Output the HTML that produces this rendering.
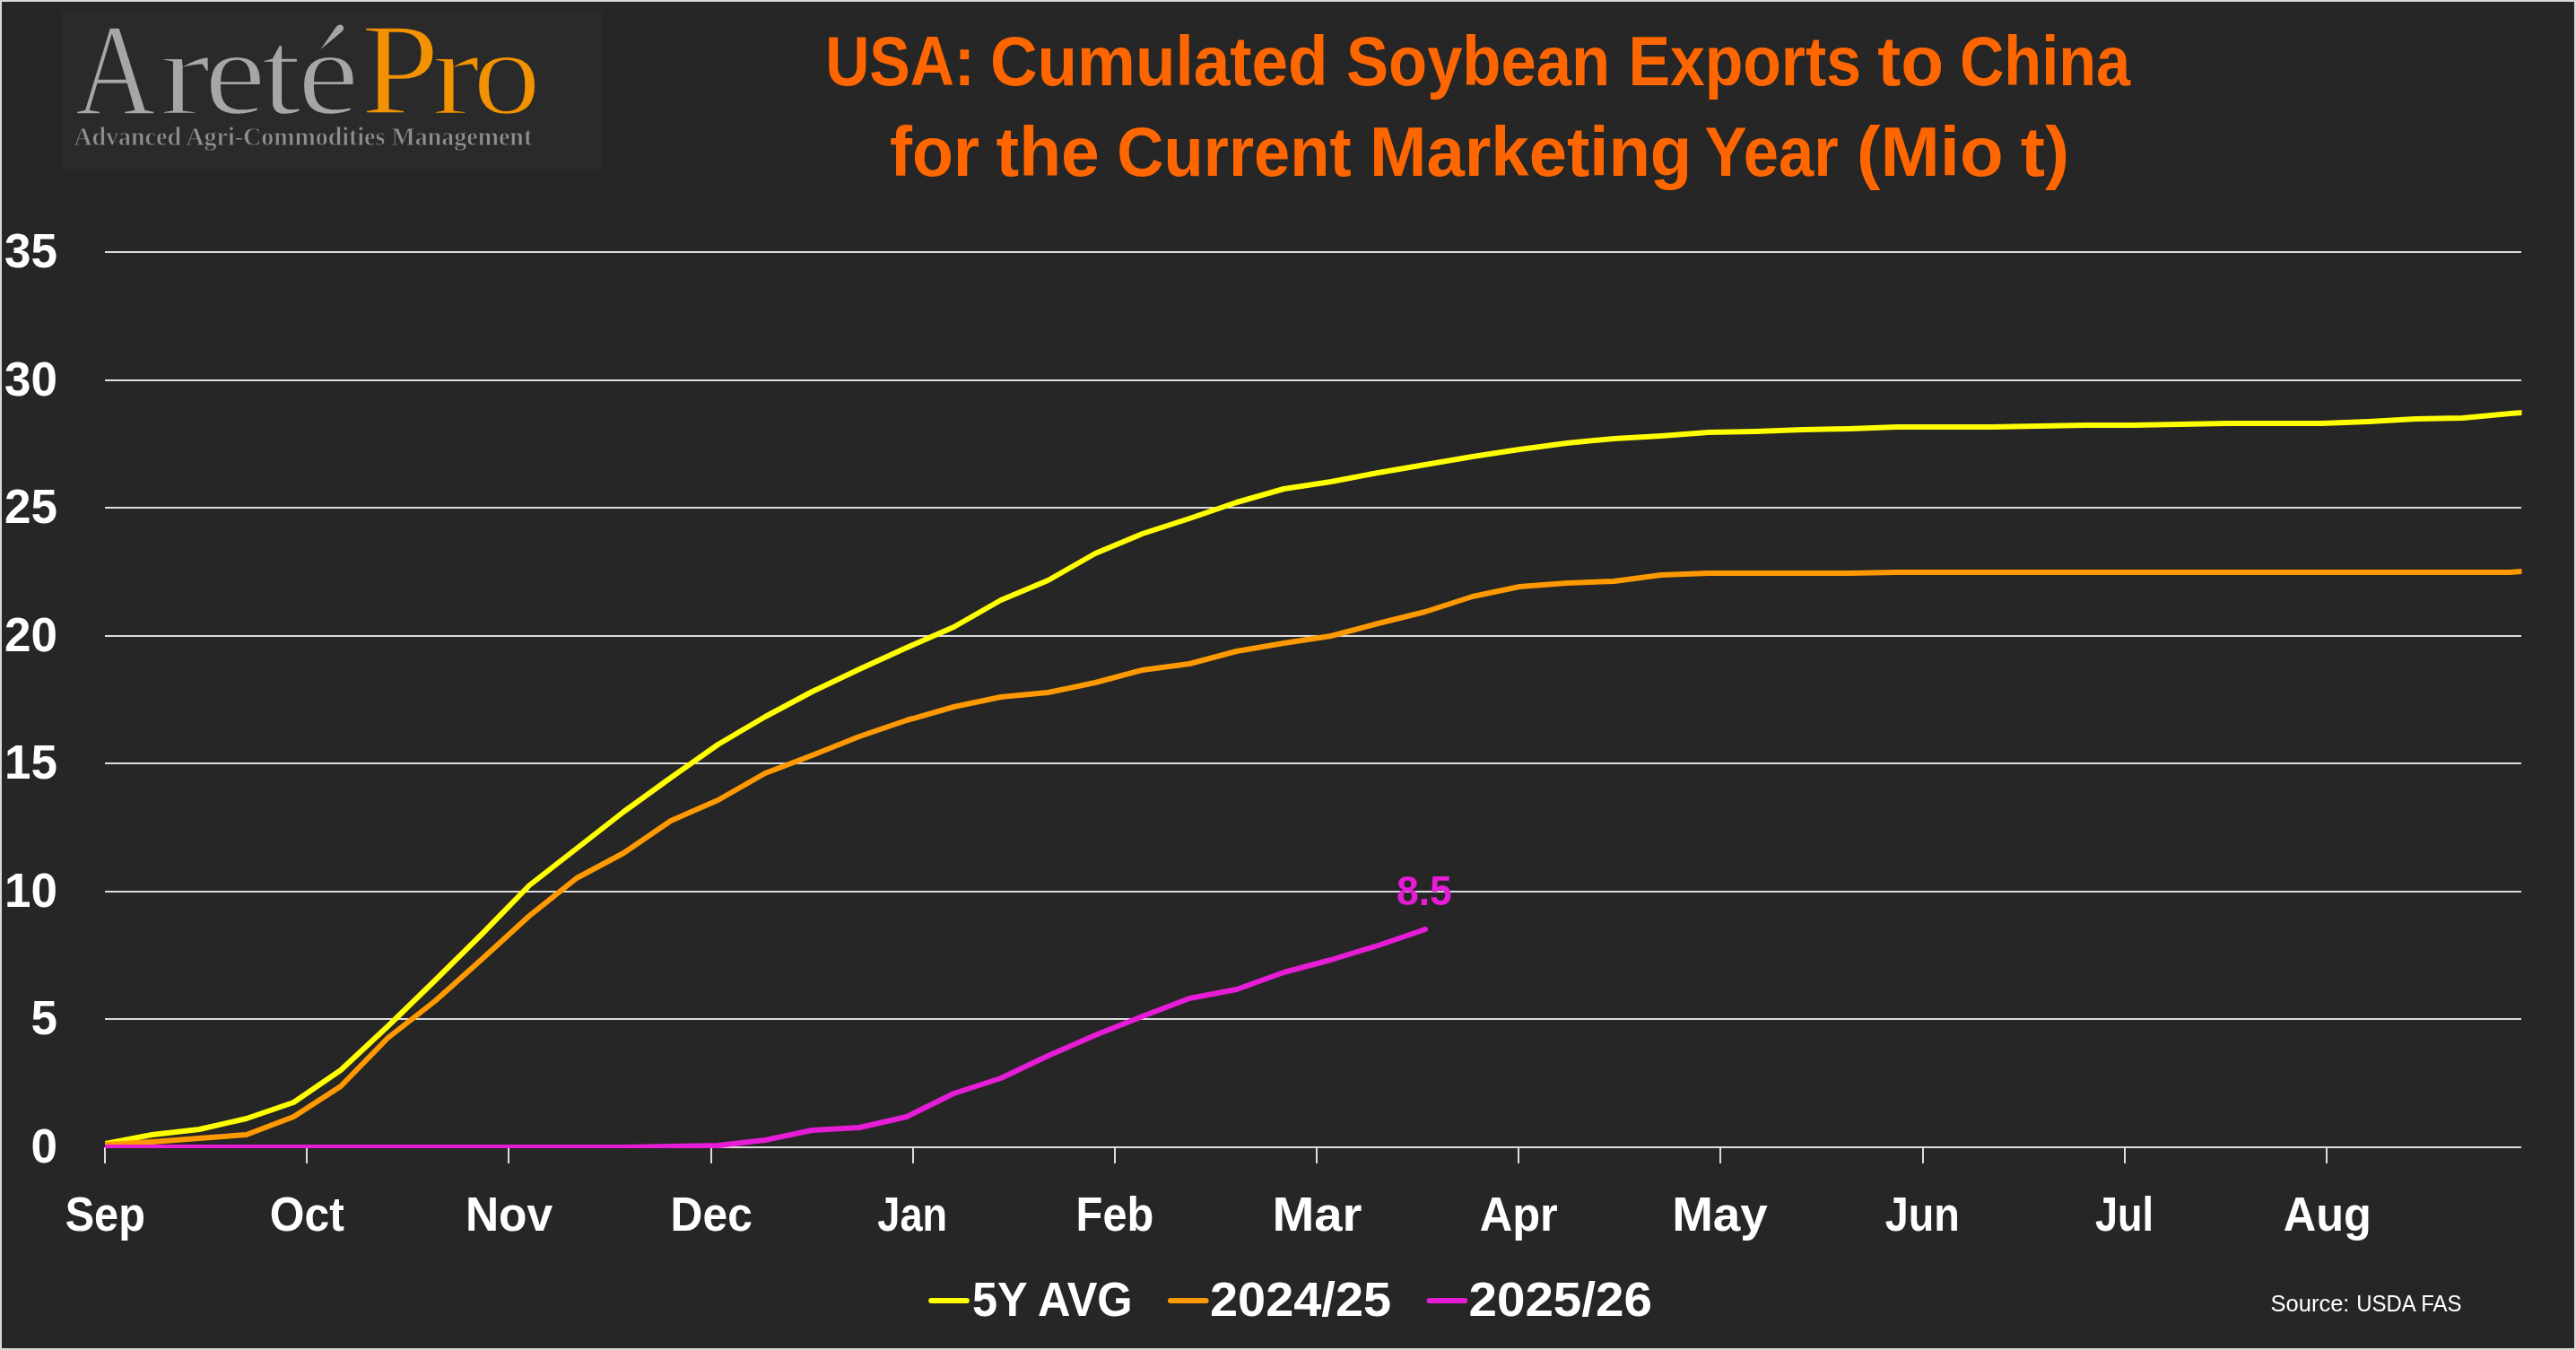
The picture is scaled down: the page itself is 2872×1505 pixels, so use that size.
<!DOCTYPE html><html><head><meta charset="utf-8"><style>html,body{margin:0;padding:0;background:#262626;}svg{display:block}</style></head><body>
<svg width="2872" height="1505" viewBox="0 0 2872 1505">
<defs><clipPath id="plot"><rect x="117" y="200" width="2694.5" height="1080"/></clipPath></defs>
<rect x="0" y="0" width="2872" height="1505" fill="#d9d9d9"/>
<rect x="2" y="2" width="2868" height="1501" fill="#262626"/>
<rect x="117" y="1135" width="2694" height="2" fill="#dcdcdc"/>
<rect x="117" y="993" width="2694" height="2" fill="#dcdcdc"/>
<rect x="117" y="850" width="2694" height="2" fill="#dcdcdc"/>
<rect x="117" y="708" width="2694" height="2" fill="#dcdcdc"/>
<rect x="117" y="565" width="2694" height="2" fill="#dcdcdc"/>
<rect x="117" y="423" width="2694" height="2" fill="#dcdcdc"/>
<rect x="117" y="280" width="2694" height="2" fill="#dcdcdc"/>
<rect x="117" y="1278" width="2694" height="2" fill="#dcdcdc"/>
<rect x="116" y="1279" width="2" height="18" fill="#dcdcdc"/>
<rect x="341" y="1279" width="2" height="18" fill="#dcdcdc"/>
<rect x="566" y="1279" width="2" height="18" fill="#dcdcdc"/>
<rect x="792" y="1279" width="2" height="18" fill="#dcdcdc"/>
<rect x="1017" y="1279" width="2" height="18" fill="#dcdcdc"/>
<rect x="1242" y="1279" width="2" height="18" fill="#dcdcdc"/>
<rect x="1467" y="1279" width="2" height="18" fill="#dcdcdc"/>
<rect x="1692" y="1279" width="2" height="18" fill="#dcdcdc"/>
<rect x="1917" y="1279" width="2" height="18" fill="#dcdcdc"/>
<rect x="2143" y="1279" width="2" height="18" fill="#dcdcdc"/>
<rect x="2368" y="1279" width="2" height="18" fill="#dcdcdc"/>
<rect x="2593" y="1279" width="2" height="18" fill="#dcdcdc"/>
<text x="64" y="1295.5" text-anchor="end" font-family="Liberation Sans" font-weight="bold" font-size="53" fill="#ffffff">0</text>
<text x="64" y="1153.0" text-anchor="end" font-family="Liberation Sans" font-weight="bold" font-size="53" fill="#ffffff">5</text>
<text x="64" y="1010.5" text-anchor="end" font-family="Liberation Sans" font-weight="bold" font-size="53" fill="#ffffff">10</text>
<text x="64" y="868.0" text-anchor="end" font-family="Liberation Sans" font-weight="bold" font-size="53" fill="#ffffff">15</text>
<text x="64" y="725.5" text-anchor="end" font-family="Liberation Sans" font-weight="bold" font-size="53" fill="#ffffff">20</text>
<text x="64" y="583.0" text-anchor="end" font-family="Liberation Sans" font-weight="bold" font-size="53" fill="#ffffff">25</text>
<text x="64" y="440.5" text-anchor="end" font-family="Liberation Sans" font-weight="bold" font-size="53" fill="#ffffff">30</text>
<text x="64" y="298.0" text-anchor="end" font-family="Liberation Sans" font-weight="bold" font-size="53" fill="#ffffff">35</text>
<g clip-path="url(#plot)" fill="none" stroke-width="6" stroke-linejoin="round" stroke-linecap="round">
<polyline points="117.0,1275 169.6,1265 222.2,1259 274.7,1247 327.3,1229 379.9,1193 432.5,1144 485.0,1093 537.6,1041 590.2,987 642.8,946 695.3,905 747.9,867 800.5,830 853.1,799 905.6,771 958.2,746 1010.8,722 1063.4,699 1115.9,669 1168.5,647 1221.1,617 1273.7,595 1326.2,578 1378.8,560 1431.4,545 1484.0,537 1536.6,527 1589.1,518 1641.7,509 1694.3,501 1746.9,494 1799.4,489 1852.0,486 1904.6,482 1957.2,481 2009.7,479 2062.3,478 2114.9,476 2167.5,476 2220.0,476 2272.6,475 2325.2,474 2377.8,474 2430.3,473 2482.9,472 2535.5,472 2588.1,472 2640.6,470 2693.2,467 2745.8,466 2798.4,461 2851.0,457" stroke="#ffff00"/>
<polyline points="117.0,1276 169.6,1273 222.2,1269 274.7,1265 327.3,1245 379.9,1211 432.5,1157 485.0,1116 537.6,1069 590.2,1021 642.8,979 695.3,951 747.9,915 800.5,892 853.1,862 905.6,842 958.2,821 1010.8,803 1063.4,788 1115.9,777 1168.5,772 1221.1,761 1273.7,747 1326.2,740 1378.8,726 1431.4,717 1484.0,709 1536.6,695 1589.1,682 1641.7,665 1694.3,654 1746.9,650 1799.4,648 1852.0,641 1904.6,639 1957.2,639 2009.7,639 2062.3,639 2114.9,638 2167.5,638 2220.0,638 2272.6,638 2325.2,638 2377.8,638 2430.3,638 2482.9,638 2535.5,638 2588.1,638 2640.6,638 2693.2,638 2745.8,638 2798.4,638 2851.0,634" stroke="#ff9900"/>
<polyline points="117.0,1279 169.6,1279 222.2,1279 274.7,1279 327.3,1279 379.9,1279 432.5,1279 485.0,1279 537.6,1279 590.2,1279 642.8,1279 695.3,1279 747.9,1278 800.5,1277 853.1,1271 905.6,1260 958.2,1257 1010.8,1245 1063.4,1219 1115.9,1202 1168.5,1177 1221.1,1154 1273.7,1133 1326.2,1113 1378.8,1103 1431.4,1084 1484.0,1070 1536.6,1054 1589.1,1036" stroke="#e61cd6"/>
</g>
<line x1="1038.2" y1="1450" x2="1077.8" y2="1450" stroke="#ffff00" stroke-width="6" stroke-linecap="round"/>
<line x1="1305" y1="1450" x2="1344.6" y2="1450" stroke="#ff9900" stroke-width="6" stroke-linecap="round"/>
<line x1="1593.6" y1="1450" x2="1633.2" y2="1450" stroke="#e61cd6" stroke-width="6" stroke-linecap="round"/>
<rect x="69" y="12" width="602" height="178" fill="#2a2a2a"/>
<path d="M357.5,55 L375,29.5 Q379,26 382,28.5 Q384.5,31.5 381.5,35 Z" fill="#a5a6a8"/>
<g style="will-change:transform">
<text x="920.14" y="95.10" font-family="Liberation Sans" font-weight="bold" font-size="77" fill="#ff6600" textLength="166.48" lengthAdjust="spacingAndGlyphs">USA:</text>
<text x="1103.94" y="95.10" font-family="Liberation Sans" font-weight="bold" font-size="77" fill="#ff6600" textLength="376.57" lengthAdjust="spacingAndGlyphs">Cumulated</text>
<text x="1500.96" y="95.10" font-family="Liberation Sans" font-weight="bold" font-size="77" fill="#ff6600" textLength="294.13" lengthAdjust="spacingAndGlyphs">Soybean</text>
<text x="1815.48" y="95.10" font-family="Liberation Sans" font-weight="bold" font-size="77" fill="#ff6600" textLength="259.41" lengthAdjust="spacingAndGlyphs">Exports</text>
<text x="2093.13" y="95.10" font-family="Liberation Sans" font-weight="bold" font-size="77" fill="#ff6600" textLength="73.84" lengthAdjust="spacingAndGlyphs">to</text>
<text x="2184.97" y="95.10" font-family="Liberation Sans" font-weight="bold" font-size="77" fill="#ff6600" textLength="190.04" lengthAdjust="spacingAndGlyphs">China</text>
<text x="991.94" y="195.90" font-family="Liberation Sans" font-weight="bold" font-size="77" fill="#ff6600" textLength="100.13" lengthAdjust="spacingAndGlyphs">for</text>
<text x="1110.55" y="195.90" font-family="Liberation Sans" font-weight="bold" font-size="77" fill="#ff6600" textLength="115.33" lengthAdjust="spacingAndGlyphs">the</text>
<text x="1245.36" y="195.90" font-family="Liberation Sans" font-weight="bold" font-size="77" fill="#ff6600" textLength="261.26" lengthAdjust="spacingAndGlyphs">Current</text>
<text x="1527.05" y="195.90" font-family="Liberation Sans" font-weight="bold" font-size="77" fill="#ff6600" textLength="359.30" lengthAdjust="spacingAndGlyphs">Marketing</text>
<text x="1900.56" y="195.90" font-family="Liberation Sans" font-weight="bold" font-size="77" fill="#ff6600" textLength="149.05" lengthAdjust="spacingAndGlyphs">Year</text>
<text x="2070.03" y="195.90" font-family="Liberation Sans" font-weight="bold" font-size="77" fill="#ff6600" textLength="163.50" lengthAdjust="spacingAndGlyphs">(Mio</text>
<text x="2252.75" y="195.90" font-family="Liberation Sans" font-weight="bold" font-size="77" fill="#ff6600" textLength="54.47" lengthAdjust="spacingAndGlyphs">t)</text>
<text x="72.71" y="1372.30" font-family="Liberation Sans" font-weight="bold" font-size="53" fill="#ffffff" textLength="89.14" lengthAdjust="spacingAndGlyphs">Sep</text>
<text x="300.70" y="1372.30" font-family="Liberation Sans" font-weight="bold" font-size="53" fill="#ffffff" textLength="83.11" lengthAdjust="spacingAndGlyphs">Oct</text>
<text x="518.89" y="1372.30" font-family="Liberation Sans" font-weight="bold" font-size="53" fill="#ffffff" textLength="97.33" lengthAdjust="spacingAndGlyphs">Nov</text>
<text x="747.55" y="1372.30" font-family="Liberation Sans" font-weight="bold" font-size="53" fill="#ffffff" textLength="91.25" lengthAdjust="spacingAndGlyphs">Dec</text>
<text x="978.35" y="1372.30" font-family="Liberation Sans" font-weight="bold" font-size="53" fill="#ffffff" textLength="77.72" lengthAdjust="spacingAndGlyphs">Jan</text>
<text x="1199.62" y="1372.30" font-family="Liberation Sans" font-weight="bold" font-size="53" fill="#ffffff" textLength="86.67" lengthAdjust="spacingAndGlyphs">Feb</text>
<text x="1418.42" y="1372.30" font-family="Liberation Sans" font-weight="bold" font-size="53" fill="#ffffff" textLength="99.93" lengthAdjust="spacingAndGlyphs">Mar</text>
<text x="1649.63" y="1372.30" font-family="Liberation Sans" font-weight="bold" font-size="53" fill="#ffffff" textLength="87.11" lengthAdjust="spacingAndGlyphs">Apr</text>
<text x="1864.17" y="1372.30" font-family="Liberation Sans" font-weight="bold" font-size="53" fill="#ffffff" textLength="106.74" lengthAdjust="spacingAndGlyphs">May</text>
<text x="2101.74" y="1372.30" font-family="Liberation Sans" font-weight="bold" font-size="53" fill="#ffffff" textLength="83.08" lengthAdjust="spacingAndGlyphs">Jun</text>
<text x="2336.00" y="1372.30" font-family="Liberation Sans" font-weight="bold" font-size="53" fill="#ffffff" textLength="65.02" lengthAdjust="spacingAndGlyphs">Jul</text>
<text x="2545.73" y="1372.30" font-family="Liberation Sans" font-weight="bold" font-size="53" fill="#ffffff" textLength="98.11" lengthAdjust="spacingAndGlyphs">Aug</text>
<text x="1083.98" y="1466.80" font-family="Liberation Sans" font-weight="bold" font-size="53" fill="#ffffff" textLength="178.60" lengthAdjust="spacingAndGlyphs">5Y AVG</text>
<text x="1348.97" y="1466.80" font-family="Liberation Sans" font-weight="bold" font-size="53" fill="#ffffff" textLength="202.15" lengthAdjust="spacingAndGlyphs">2024/25</text>
<text x="1637.45" y="1466.80" font-family="Liberation Sans" font-weight="bold" font-size="53" fill="#ffffff" textLength="204.59" lengthAdjust="spacingAndGlyphs">2025/26</text>
<text x="2531.56" y="1461.80" font-family="Liberation Sans" font-weight="normal" font-size="25" fill="#ffffff" textLength="87.92" lengthAdjust="spacingAndGlyphs">Source:</text>
<text x="2627.24" y="1461.80" font-family="Liberation Sans" font-weight="normal" font-size="25" fill="#ffffff" textLength="117.28" lengthAdjust="spacingAndGlyphs">USDA FAS</text>
<text x="83.93" y="126.80" font-family="Liberation Serif" font-weight="normal" font-size="146" fill="#a5a6a8" textLength="89.33" lengthAdjust="spacingAndGlyphs" stroke="#2a2a2a" stroke-width="2.4">A</text>
<text x="178.22" y="126.80" font-family="Liberation Serif" font-weight="normal" font-size="136" fill="#a5a6a8" textLength="56.40" lengthAdjust="spacingAndGlyphs" stroke="#2a2a2a" stroke-width="2.4">r</text>
<text x="227.69" y="126.80" font-family="Liberation Serif" font-weight="normal" font-size="136" fill="#a5a6a8" textLength="68.68" lengthAdjust="spacingAndGlyphs" stroke="#2a2a2a" stroke-width="2.4">e</text>
<text x="291.54" y="126.80" font-family="Liberation Serif" font-weight="normal" font-size="136" fill="#a5a6a8" textLength="44.29" lengthAdjust="spacingAndGlyphs" stroke="#2a2a2a" stroke-width="2.4">t</text>
<text x="331.81" y="126.80" font-family="Liberation Serif" font-weight="normal" font-size="136" fill="#a5a6a8" textLength="68.51" lengthAdjust="spacingAndGlyphs" stroke="#2a2a2a" stroke-width="2.4">e</text>
<text x="402.25" y="126.80" font-family="Liberation Serif" font-weight="normal" font-size="146" fill="#f39200" textLength="87.81" lengthAdjust="spacingAndGlyphs" stroke="#2a2a2a" stroke-width="2.4">P</text>
<text x="481.26" y="126.80" font-family="Liberation Serif" font-weight="normal" font-size="136" fill="#f39200" textLength="53.83" lengthAdjust="spacingAndGlyphs" stroke="#2a2a2a" stroke-width="2.4">r</text>
<text x="527.07" y="126.80" font-family="Liberation Serif" font-weight="normal" font-size="136" fill="#f39200" textLength="76.17" lengthAdjust="spacingAndGlyphs" stroke="#2a2a2a" stroke-width="2.4">o</text>
<text x="82.39" y="161.80" font-family="Liberation Serif" font-weight="bold" font-size="29.8" fill="#8e8e8e" textLength="510.82" lengthAdjust="spacingAndGlyphs" stroke="#2a2a2a" stroke-width="0.8">Advanced Agri-Commodities Management</text>
<text x="1556.96" y="1009.30" font-family="Liberation Sans" font-weight="bold" font-size="47" fill="#e61cd6" textLength="61.85" lengthAdjust="spacingAndGlyphs">8.5</text>
</g>
</svg></body></html>
